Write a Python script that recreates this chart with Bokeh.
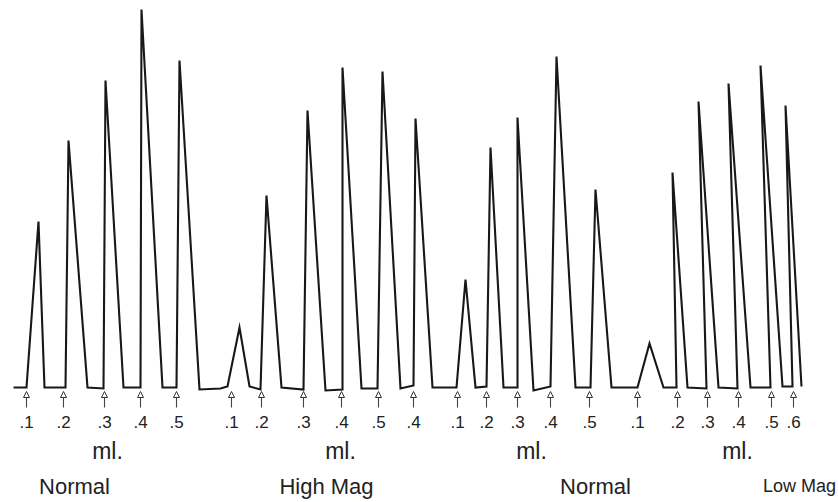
from bokeh.plotting import figure
from bokeh.models import Range1d, ColumnDataSource, Arrow, NormalHead
from bokeh.core.properties import value
from bokeh.embed import file_html
from bokeh.resources import INLINE

BASE = 387  # baseline pixel row of the recorder trace

# recorder trace vertices: time position and signal height above baseline
trace_t = [13, 26, 38, 44, 65, 68, 87, 103, 105, 123, 140, 141, 162, 176, 179, 199,
           220, 227, 239, 249, 260, 266, 281, 303, 307, 325, 342, 342, 361, 377, 382,
           400, 413, 415, 432, 456, 465, 475, 486, 490, 503, 517, 517, 533, 550, 556,
           575, 590, 595, 611, 637, 649, 663, 676, 672, 687, 706, 698, 718, 737, 728,
           750, 770, 760, 782, 792, 785, 801]
trace_px = [387, 387, 221, 387, 387, 140, 387, 388, 80, 387, 387, 9, 387, 387, 60, 389,
            388, 386, 327, 386, 389, 195, 387, 389, 110, 390, 389, 67, 388, 388, 71,
            388, 385, 118, 387, 387, 279, 387, 386, 147, 387, 387, 117, 390, 386, 56,
            387, 387, 189, 387, 387, 343, 387, 387, 172, 387, 388, 101, 387, 388, 83,
            387, 387, 65, 386, 386, 105, 386]
trace_h = [BASE - v for v in trace_px]

# injection marks (arrows) and their volume labels
inj_t = [26, 63, 104, 140, 176,
         231, 261, 303, 341, 378, 413,
         457, 486, 517, 550, 589,
         637, 677, 707, 738, 771, 793]
inj_labels = [".1", ".2", ".3", ".4", ".5",
              ".1", ".2", ".3", ".4", ".5", ".4",
              ".1", ".2", ".3", ".4", ".5",
              ".1", ".2", ".3", ".4", ".5", ".6"]

unit_t = [107, 340, 531, 737]
unit_labels = ["ml.", "ml.", "ml.", "ml."]

cond_t = [74, 326, 595]
cond_labels = ["Normal", "High Mag", "Normal"]
low_t = [799]
low_labels = ["Low Mag"]

p = figure(width=838, height=502, output_backend="svg", toolbar_location=None,
           x_range=Range1d(0, 838), y_range=Range1d(BASE - 502, BASE),
           min_border=0)
p.axis.visible = False
p.grid.visible = False
p.outline_line_color = None
p.background_fill_color = "white"

p.line(trace_t, trace_h, line_color="#1a1716", line_width=2.1, line_join="miter")

arr_src = ColumnDataSource(dict(x0=inj_t, y0=[-20] * len(inj_t),
                                x1=inj_t, y1=[-4] * len(inj_t)))
p.add_layout(Arrow(end=NormalHead(size=6, line_color="#333333", line_width=1,
                                  fill_color="white"),
                   x_start="x0", y_start="y0", x_end="x1", y_end="y1",
                   source=arr_src, line_color="#444444", line_width=1.1))

font = value("Liberation Sans")
p.text(inj_t, [-34] * len(inj_t), text=inj_labels, text_font=font,
       text_font_size="17px", text_align="center", text_baseline="middle",
       text_color="#222222")
p.text(unit_t, [-63] * len(unit_t), text=unit_labels, text_font=font,
       text_font_size="23px", text_align="center", text_baseline="middle",
       text_color="#222222")
p.text(cond_t, [-99] * len(cond_t), text=cond_labels, text_font=font,
       text_font_size="22px", text_align="center", text_baseline="middle",
       text_color="#222222")
p.text(low_t, [-98] * len(low_t), text=low_labels, text_font=font,
       text_font_size="18px", text_align="center", text_baseline="middle",
       text_color="#222222")

open("out.html", "w").write(file_html(p, INLINE))
